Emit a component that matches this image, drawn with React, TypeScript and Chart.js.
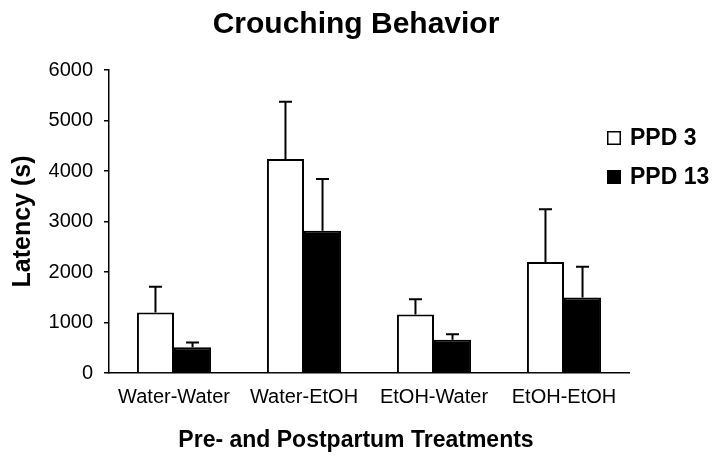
import React, { useEffect, useRef } from "react";
import { Chart, registerables } from "chart.js";

Chart.register(...registerables);

const categories = ["Water-Water", "Water-EtOH", "EtOH-Water", "EtOH-EtOH"];
const ppd3Values = [1200, 4240, 1160, 2200];
const ppd3Errors = [510, 1130, 300, 1045];
const ppd13Values = [510, 2815, 660, 1495];
const ppd13Errors = [95, 1025, 105, 610];
const seriesLabels = ["PPD 3", "PPD 13"];
const yTicks = [0, 1000, 2000, 3000, 4000, 5000, 6000];

const FONT = "'Liberation Sans', Arial, Helvetica, sans-serif";

const errorBarPlugin = {
  id: "errorBars",
  afterDatasetsDraw(chart: any) {
    const ctx = chart.ctx;
    const yScale = chart.scales.y;
    chart.data.datasets.forEach((ds: any, di: number) => {
      const meta = chart.getDatasetMeta(di);
      const errs: number[] = ds.errors || [];
      meta.data.forEach((bar: any, i: number) => {
        const v = ds.data[i];
        const e = errs[i];
        if (e == null) return;
        const x = bar.x;
        const y0 = yScale.getPixelForValue(v);
        const y1 = yScale.getPixelForValue(v + e);
        ctx.save();
        ctx.strokeStyle = "#000";
        ctx.lineWidth = 2;
        ctx.beginPath();
        ctx.moveTo(x, y0);
        ctx.lineTo(x, y1);
        ctx.moveTo(x - 6.5, y1);
        ctx.lineTo(x + 6.5, y1);
        ctx.stroke();
        ctx.restore();
      });
    });
  },
};

const legendPlugin = {
  id: "customLegend",
  afterDraw(chart: any) {
    const ctx = chart.ctx;
    ctx.save();
    const startX = 607;
    const rows = [138, 177];
    chart.data.datasets.forEach((ds: any, i: number) => {
      const cy = rows[i];
      ctx.fillStyle = ds.backgroundColor;
      ctx.fillRect(startX, cy - 7, 14, 14);
      ctx.strokeStyle = "#000";
      ctx.lineWidth = 1.5;
      ctx.strokeRect(startX + 0.75, cy - 6.25, 12.5, 12.5);
      ctx.fillStyle = "#000";
      ctx.font = `bold 23px ${FONT}`;
      ctx.textBaseline = "middle";
      ctx.textAlign = "left";
      ctx.fillText(ds.label, startX + 23, cy + 1);
    });
    ctx.restore();
  },
};

export default function App() {
  const ref = useRef<HTMLCanvasElement>(null);
  useEffect(() => {
    if (!ref.current) return;
    const chart = new Chart(ref.current, {
      type: "bar",
      data: {
        labels: categories,
        datasets: [
          {
            label: seriesLabels[0],
            data: ppd3Values,
            errors: ppd3Errors,
            backgroundColor: "#ffffff",
            borderColor: "#000000",
            borderWidth: 2,
          } as any,
          {
            label: seriesLabels[1],
            data: ppd13Values,
            errors: ppd13Errors,
            backgroundColor: "#000000",
            borderColor: "#000000",
            borderWidth: 2,
          } as any,
        ],
      },
      options: {
        responsive: false,
        animation: false,
        devicePixelRatio: 1,
        layout: { padding: { left: 0, right: 0, top: 0, bottom: 0 } },
        datasets: { bar: { categoryPercentage: 0.57, barPercentage: 1 } },
        plugins: {
          legend: { display: false },
          tooltip: { enabled: false },
          title: {
            display: true,
            text: "Crouching Behavior",
            color: "#000",
            font: { family: FONT, size: 30, weight: "bold" },
            padding: { top: 7, bottom: 27 },
          },
          subtitle: {
            display: true,
            position: "bottom",
            text: "Pre- and Postpartum Treatments",
            color: "#000",
            font: { family: FONT, size: 23, weight: "bold" },
            padding: { top: 0, bottom: 4 },
          },
        },
        scales: {
          x: {
            grid: { display: false, drawTicks: false },
            border: { display: true, color: "#000", width: 1.5 },
            ticks: {
              color: "#000",
              font: { family: FONT, size: 20 },
              padding: 12,
              maxRotation: 0,
              autoSkip: false,
            },
            afterFit(scale: any) {
              scale.height = 53.4;
            },
          },
          y: {
            min: 0,
            max: 6000,
            afterBuildTicks(scale: any) {
              scale.ticks = yTicks.map((v) => ({ value: v }));
            },
            grid: {
              drawOnChartArea: false,
              drawTicks: true,
              tickLength: 5,
              color: "#000",
              lineWidth: 1.5,
            },
            border: { display: true, color: "#000", width: 1.5 },
            ticks: {
              color: "#000",
              font: { family: FONT, size: 20 },
              padding: 11,
              callback: (v: any) => String(v),
            },
            title: {
              display: true,
              text: "Latency (s)",
              color: "#000",
              font: { family: FONT, size: 25, weight: "bold" },
              padding: { top: 8, bottom: 0 },
            },
            afterFit(scale: any) {
              scale.width = 109;
            },
          },
          yRight: {
            position: "right",
            display: true,
            min: 0,
            max: 1,
            grid: { display: false, drawTicks: false },
            border: { display: false },
            ticks: { display: false },
            afterFit(scale: any) {
              scale.width = 83;
            },
          },
        },
      } as any,
      plugins: [errorBarPlugin, legendPlugin],
    });
    return () => chart.destroy();
  }, []);
  return (
    <div style={{ position: "fixed", left: 0, top: 0, width: 712, height: 458, background: "#fff" }}>
      <canvas ref={ref} width={712} height={458} style={{ display: "block" }} />
    </div>
  );
}
